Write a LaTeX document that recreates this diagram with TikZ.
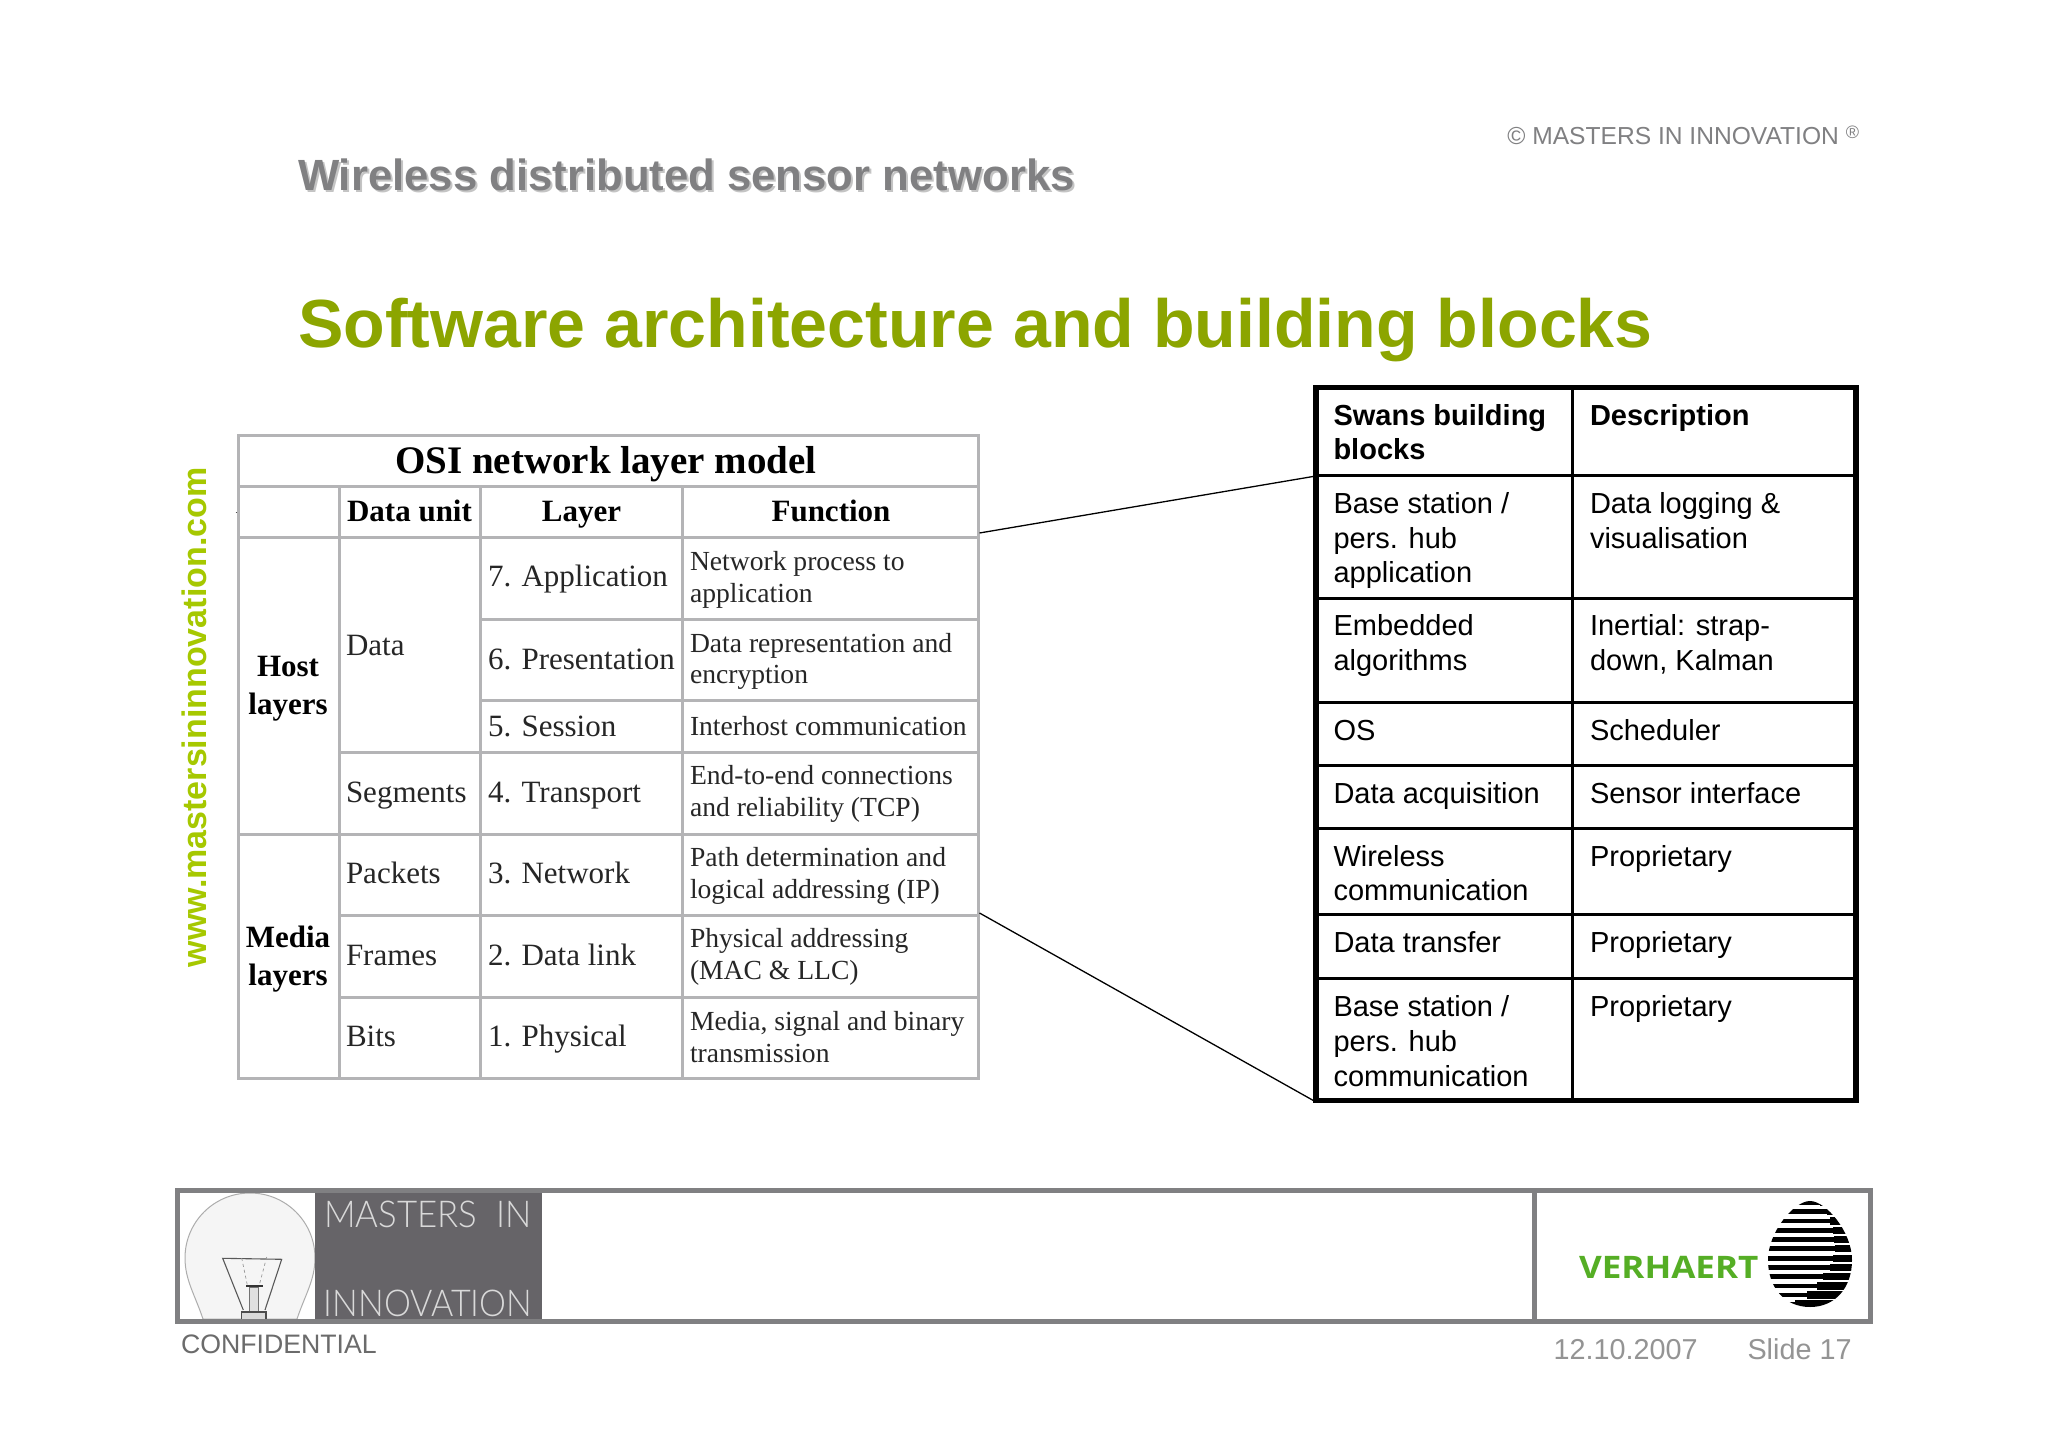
\documentclass[tikz,border=0pt]{standalone}
\usepackage{fontspec}
\setmainfont{Liberation Sans}
\newfontfamily\serf{Liberation Serif}
\newfontfamily\verh{Open Sans}
\newfontfamily\thinf{Lato Light}
\definecolor{olivet}{HTML}{8CA500}
\definecolor{limet}{HTML}{A6C800}
\definecolor{framegray}{HTML}{808082}
\definecolor{osigray}{HTML}{B4B4B6}
\definecolor{darkbox}{HTML}{666468}
\definecolor{vgreen}{HTML}{55AE25}
\definecolor{shadowg}{HTML}{C4C4C4}
\newcommand{\fs}[2]{\fontsize{#1}{#2}\selectfont}
\tikzset{
  txt/.style={inner sep=0pt,outer sep=0pt,anchor=base west},
  osicell/.style={txt,font=\serf\fs{31}{37},text=black!85},
  osihead/.style={txt,anchor=base,font=\serf\bfseries\fs{31}{36}},
  osiside/.style={txt,anchor=base,font=\serf\bfseries\fs{31}{37.5},align=center},
  osifunc/.style={txt,font=\serf\fs{27.6}{32},text=black!85},
  swan/.style={txt,font=\fs{29}{35},align=left},
  swanhead/.style={swan,font=\bfseries\fs{29}{35}},
  osiline/.style={draw=osigray,line width=3pt},
  swline/.style={draw=black,line width=2.6pt},
  swouter/.style={draw=black,line width=5.2pt},
  conn/.style={draw=black,line width=1.3pt},
  framel/.style={draw=framegray,line width=5pt},
}
\begin{document}
\begin{tikzpicture}[x=1pt,y=-1pt]
\useasboundingbox (0,0) rectangle (2048,1447);
\fill[white] (0,0) rectangle (2048,1447);

% header
\node[txt,text=shadowg,font=\bfseries\fs{43.7}{50}] (subshadow) at (300,192.5) {Wireless distributed sensor networks};
\node[txt,text=framegray,font=\bfseries\fs{43.7}{50}] (subtitle) at (298,190.5) {Wireless distributed sensor networks};
\node[txt,text=olivet,font=\bfseries\fs{68.1}{76}] (title) at (298,347) {Software architecture and building blocks};
\node[txt,anchor=base east,text=framegray,font=\fs{24.6}{28}] (copy) at (1859,145) {© MASTERS IN INNOVATION \raisebox{6pt}{\fs{18}{20}®}};
\node[txt,rotate=90,text=limet,font=\bfseries\fs{34}{38}] (url) at (206.5,967) {www.mastersininnovation.com};

% OSI table
\path[osiline] (238,435) rectangle (978,1078);
\path[osiline] (238,486) -- (978,486);
\path[osiline] (238,537) -- (978,537);
\path[osiline] (480,619) -- (978,619);
\path[osiline] (480,700) -- (978,700);
\path[osiline] (339,752) -- (978,752);
\path[osiline] (238,834) -- (978,834);
\path[osiline] (339,915) -- (978,915);
\path[osiline] (339,997) -- (978,997);
\path[osiline] (339,486) -- (339,1078);
\path[osiline] (480,486) -- (480,1078);
\path[osiline] (682,486) -- (682,1078);
\draw[black!70,line width=.8pt] (235.5,512) -- (237,512);

\node[txt,anchor=base,font=\serf\bfseries\fs{39}{44}] (osititle) at (606,473) {OSI network layer model};
\node[osihead] (h1) at (409.5,521) {Data unit};
\node[osihead] (h2) at (581.5,521) {Layer};
\node[osihead] (h3) at (831,521) {Function};
\node[osiside] (host) at (288,714) {Host\\layers};
\node[osiside] (media) at (288,985) {Media\\layers};
\node[osicell] (u1) at (346,655) {Data};
\node[osicell] (u2) at (346,802) {Segments};
\node[osicell] (u3) at (346,883) {Packets};
\node[osicell] (u4) at (346,965) {Frames};
\node[osicell] (u5) at (346,1046.5) {Bits};
\node[osicell] (l7) at (488,586.5) {7. Application};
\node[osicell] (l6) at (488,669) {6. Presentation};
\node[osicell] (l5) at (488,736.5) {5. Session};
\node[osicell] (l4) at (488,802.5) {4. Transport};
\node[osicell] (l3) at (488,883) {3. Network};
\node[osicell] (l2) at (488,965) {2. Data link};
\node[osicell] (l1) at (488,1046.5) {1. Physical};
\node[osifunc] (f7) at (690,570) {Network process to};
\node[osifunc] (f7b) at (690,602) {application};
\node[osifunc] (f6) at (690,652) {Data representation and};
\node[osifunc] (f6b) at (690,683.5) {encryption};
\node[osifunc] (f5) at (690,735) {Interhost communication};
\node[osifunc] (f4) at (690,784) {End-to-end connections};
\node[osifunc] (f4b) at (690,816.5) {and reliability (TCP)};
\node[osifunc] (f3) at (690,866.5) {Path determination and};
\node[osifunc] (f3b) at (690,898) {logical addressing (IP)};
\node[osifunc] (f2) at (690,947) {Physical addressing};
\node[osifunc] (f2b) at (690,979.5) {(MAC \& LLC)};
\node[osifunc] (f1) at (690,1030) {Media, signal and binary};
\node[osifunc] (f1b) at (690,1062) {transmission};

% Swans table
\foreach \yy in {475.3,598.3,702.3,765.3,828.3,914.3,978.3} \path[swline] (1316,\yy) -- (1856,\yy);
\path[swline] (1572.5,387.5) -- (1572.5,1100.5);
\path[swouter] (1316,387.5) rectangle (1856,1100.5);

\coordinate (osiA) at (979.5,533);
\coordinate (osiB) at (979.5,913);
\coordinate (swA) at (1316,476);
\coordinate (swB) at (1316,1102);
\draw[conn] (osiA) -- (swA);
\draw[conn] (osiB) -- (swB);

\node[swanhead] (s0a) at (1333.5,425) {Swans building};
\node[swanhead] (s0c) at (1333.5,459.5) {blocks};
\node[swanhead] (s0b) at (1590,425) {Description};
\node[swan] (s1a) at (1333.5,513) {Base station /};
\node[swan] (s1a2) at (1333.5,548) {pers. hub};
\node[swan] (s1a3) at (1333.5,582.5) {application};
\node[swan] (s1b) at (1590,513) {Data logging \&};
\node[swan] (s1b2) at (1590,548) {visualisation};
\node[swan] (s2a) at (1333.5,635) {Embedded};
\node[swan] (s2a2) at (1333.5,670) {algorithms};
\node[swan] (s2b) at (1590,635) {Inertial: strap-};
\node[swan] (s2b2) at (1590,670) {down, Kalman};
\node[swan] (s3a) at (1333.5,740) {OS};
\node[swan] (s3b) at (1590,740) {Scheduler};
\node[swan] (s4a) at (1333.5,803) {Data acquisition};
\node[swan] (s4b) at (1590,803) {Sensor interface};
\node[swan] (s5a) at (1333.5,866) {Wireless};
\node[swan] (s5a2) at (1333.5,900) {communication};
\node[swan] (s5b) at (1590,866) {Proprietary};
\node[swan] (s6a) at (1333.5,952.5) {Data transfer};
\node[swan] (s6b) at (1590,952.5) {Proprietary};
\node[swan] (s7a) at (1333.5,1016) {Base station /};
\node[swan] (s7a2) at (1333.5,1051) {pers. hub};
\node[swan] (s7a3) at (1333.5,1086) {communication};
\node[swan] (s7b) at (1590,1016) {Proprietary};

% footer: bulb
\begin{scope}
\clip (180,1193) rectangle (315,1319);
\path[fill=black!4,draw=black!32,line width=1pt] (203,1319) .. controls (195,1295) and (185,1280) .. (185,1258) .. controls (185,1222) and (214,1193) .. (250,1193) .. controls (286,1193) and (315,1222) .. (315,1258) .. controls (315,1280) and (305,1295) .. (297,1319) -- cycle;
\draw[black!65,line width=1.1pt] (243.3,1310) -- (222.7,1258.3) -- (281.7,1259.3) -- (265,1310);
\draw[black!40,line width=.7pt,dashed] (241.7,1258) -- (247.3,1285);
\draw[black!40,line width=.7pt,dashed] (266.7,1257) -- (259.3,1285);
\fill[black!80] (246,1284.5) rectangle (262.7,1287);
\draw[black!55,line width=1pt,fill=black!12] (249.3,1287) rectangle (258.3,1311);
\draw[black!70,line width=1.2pt,fill=black!15] (241.7,1312) rectangle (266,1322);
\end{scope}
\fill[darkbox] (315,1193) rectangle (542,1319);
\node[txt,anchor=base,text=black!15,font=\thinf\fs{37}{40}] (mi1) at (428,1227) {\scalebox{0.94}[1]{MASTERS\ \ IN}};
\node[txt,anchor=base,text=black!15,font=\thinf\fs{37}{40}] (mi2) at (428,1316) {\scalebox{0.92}[1]{INNOVATION}};
\path[framel] (177.5,1190.5) rectangle (1870.5,1321.5);
\path[framel] (1534.5,1190.5) -- (1534.5,1321.5);

% footer: Verhaert logo
\node[txt,text=vgreen,font=\verh\bfseries\fs{31}{36}] (verh) at (1579,1278) {\scalebox{1.13}[1]{VERHAERT}};
\begin{scope}
\clip (1810,1201) .. controls (1826,1201) and (1852,1232) .. (1852,1260) .. controls (1852,1288) and (1835,1307) .. (1810,1307) .. controls (1785,1307) and (1768,1288) .. (1768,1260) .. controls (1768,1232) and (1794,1201) .. (1810,1201);
\foreach \yy/\xx in {1202.5/1820,1211.5/1827,1221/1830,1230.5/1833,1239.5/1834,1248.5/1835,1258.5/1833,1267.5/1830,1276.5/1823,1286/1817,1295/1807,1304/1795}{
  \fill[black] (1760,\yy-2.2) rectangle (\xx,\yy+2.2);
  \fill[black] (\xx,\yy-3.6) rectangle (1860,\yy+3.6);
}
\end{scope}

% footer text
\node[txt,text=black!58,font=\fs{26.7}{30}] (conf) at (181,1353) {CONFIDENTIAL};
\node[txt,text=black!42,font=\fs{28.8}{32}] (date) at (1553.5,1359) {12.10.2007};
\node[txt,text=black!42,font=\fs{28.8}{32}] (slide) at (1747.5,1359) {Slide 17};
\end{tikzpicture}
\end{document}
